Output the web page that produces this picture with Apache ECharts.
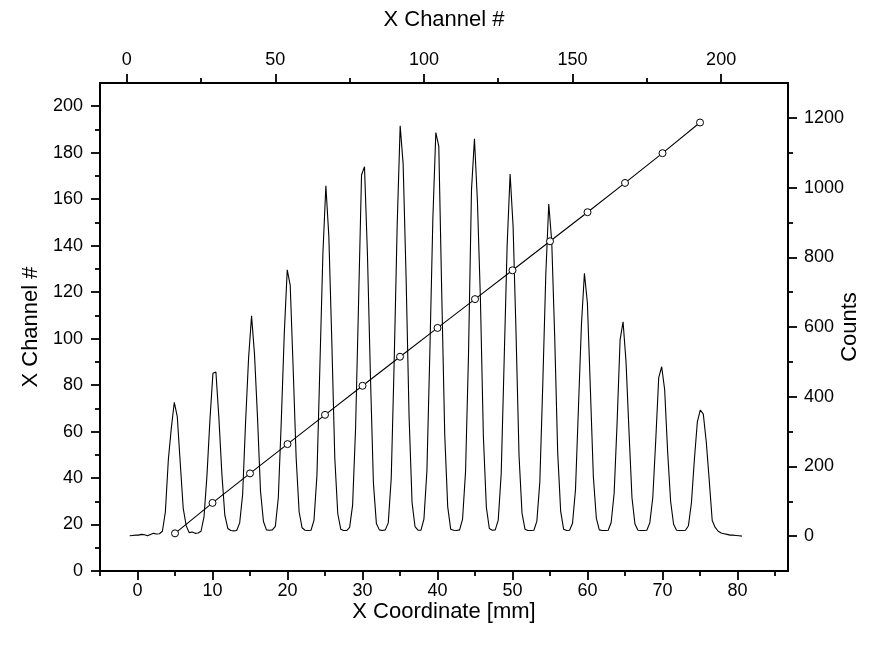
<!DOCTYPE html>
<html><head><meta charset="utf-8">
<script src="https://cdn.jsdelivr.net/npm/echarts@6/dist/echarts.min.js"></script>
<style>html,body{margin:0;padding:0;background:#fff}#c{width:870px;height:649px}</style>
</head><body><div id="c"></div>
<script>
// Calibration: X coordinate (mm) vs X channel #
const positionMM = [5, 10, 15, 20, 25, 30, 35, 40, 45, 50, 55, 60, 65, 70, 75];
const channelAtPosition = [16.2, 29.3, 42.0, 54.6, 67.2, 79.7, 92.2, 104.6, 117.0, 129.4, 141.9, 154.4, 167.0, 179.8, 193.0];

// Spectrum: counts per channel, starting at channel 1
const spectrumFirstChannel = 1;
const spectrumCounts = [
  1, 2, 3, 3, 5, 4, 1, 5, 8, 6,
  7, 14, 70, 220, 310, 384, 343, 210, 80, 30,
  10, 12, 8, 9, 14, 55, 175, 335, 467, 471,
  340, 180, 60, 22, 16, 15, 16, 38, 120, 330,
  512, 632, 520, 340, 130, 42, 18, 17, 18, 28,
  110, 330, 580, 764, 720, 480, 225, 70, 24, 17,
  16, 17, 45, 175, 490, 810, 1005, 860, 560, 225,
  65, 20, 16, 16, 25, 89, 310, 669, 1036, 1060,
  806, 458, 152, 36, 18, 16, 18, 38, 167, 506,
  893, 1177, 1068, 740, 343, 97, 27, 17, 17, 49,
  187, 531, 910, 1158, 1118, 692, 290, 84, 20, 17,
  16, 18, 49, 185, 523, 993, 1140, 960, 682, 286,
  83, 22, 17, 18, 46, 179, 507, 835, 1039, 888,
  579, 230, 66, 20, 16, 16, 17, 43, 156, 439,
  750, 953, 845, 571, 241, 72, 20, 16, 17, 37,
  134, 371, 608, 754, 669, 423, 171, 52, 18, 16,
  16, 17, 39, 123, 327, 563, 615, 500, 300, 110,
  35, 17, 16, 16, 17, 38, 110, 275, 455, 486,
  420, 242, 100, 34, 17, 16, 16, 17, 30, 95,
  220, 328, 362, 350, 270, 160, 45, 25, 14, 9,
  7, 5, 3, 3, 2, 1, 0
];

// Tick labels / tick positions
const bottomMajorTicks = [0, 10, 20, 30, 40, 50, 60, 70, 80];
const bottomMinorTicks = [-5, 5, 15, 25, 35, 45, 55, 65, 75, 85];
const topMajorTicks = [0, 50, 100, 150, 200];
const topMinorTicks = [25, 75, 125, 175];
const leftMajorTicks = [0, 20, 40, 60, 80, 100, 120, 140, 160, 180, 200];
const leftMinorTicks = [10, 30, 50, 70, 90, 110, 130, 150, 170, 190];
const rightMajorTicks = [0, 200, 400, 600, 800, 1000, 1200];
const rightMinorTicks = [100, 300, 500, 700, 900, 1100];

const FONT = "'Liberation Sans', Arial, Helvetica, sans-serif";
const BLACK = '#000';

function majorAxis(o) {
  return Object.assign({
    type: 'value',
    splitLine: { show: false },
    axisLine: { show: true, onZero: false, lineStyle: { color: BLACK, width: 2 } },
    axisTick: { show: true, inside: false, length: 9, customValues: o.ticks, lineStyle: { color: BLACK, width: 1.8 } },
    axisLabel: { show: true, customValues: o.ticks, margin: o.margin, color: BLACK, fontSize: 18, fontFamily: FONT,
                 formatter: v => String(v) },
    nameLocation: 'middle',
    nameMoveOverlap: false,
    nameTextStyle: { color: BLACK, fontSize: 22, fontFamily: FONT },
  }, o.extra);
}
function minorAxis(o) {
  return Object.assign({
    type: 'value',
    splitLine: { show: false },
    axisLine: { show: false, onZero: false },
    axisTick: { show: true, inside: false, length: 5, customValues: o.ticks, lineStyle: { color: BLACK, width: 1.8 } },
    axisLabel: { show: false },
  }, o.extra);
}

const spectrumData = spectrumCounts.map((c, i) => [spectrumFirstChannel + i, c]);
const calibData = positionMM.map((x, i) => [x, channelAtPosition[i]]);

const chart = echarts.init(document.getElementById('c'), null, { renderer: 'canvas' });
chart.setOption({
  animation: false,
  backgroundColor: '#fff',
  grid: { left: 100, right: 82, top: 83, bottom: 78, containLabel: false, outerBoundsMode: 'none' },
  xAxis: [
    majorAxis({ ticks: bottomMajorTicks, margin: 11, extra: { position: 'bottom', min: -5, max: 86.73, name: 'X Coordinate [mm]', nameGap: 30 } }),
    minorAxis({ ticks: bottomMinorTicks, extra: { position: 'bottom', min: -5, max: 86.73 } }),
    majorAxis({ ticks: topMajorTicks, margin: 14, extra: { position: 'top', min: -9, max: 222.5, name: 'X Channel #', nameGap: 52 } }),
    minorAxis({ ticks: topMinorTicks, extra: { position: 'top', min: -9, max: 222.5 } }),
  ],
  yAxis: [
    majorAxis({ ticks: leftMajorTicks, margin: 17, extra: { position: 'left', min: 0, max: 210, name: 'X Channel #', nameGap: 58 } }),
    minorAxis({ ticks: leftMinorTicks, extra: { position: 'left', min: 0, max: 210 } }),
    majorAxis({ ticks: rightMajorTicks, margin: 16, extra: { position: 'right', min: -100, max: 1300, name: 'Counts', nameGap: 51 } }),
    minorAxis({ ticks: rightMinorTicks, extra: { position: 'right', min: -100, max: 1300 } }),
  ],
  series: [
    {
      name: 'Counts', type: 'line', xAxisIndex: 2, yAxisIndex: 2,
      data: spectrumData, showSymbol: false, symbol: 'none',
      lineStyle: { color: BLACK, width: 1.1 }, z: 2
    },
    {
      name: 'Channel', type: 'line', xAxisIndex: 0, yAxisIndex: 0,
      data: calibData, symbol: 'circle', symbolSize: 7, showAllSymbol: true,
      itemStyle: { color: '#fff', borderColor: BLACK, borderWidth: 1 },
      lineStyle: { color: BLACK, width: 1.1 }, z: 3
    }
  ]
});
</script>
</body></html>
